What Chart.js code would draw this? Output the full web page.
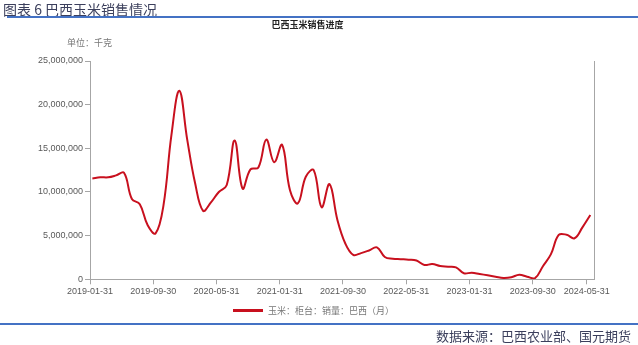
<!DOCTYPE html>
<html>
<head>
<meta charset="utf-8">
<script src="https://cdn.jsdelivr.net/npm/chart.js@4/dist/chart.umd.min.js"></script>
<style>
  body { margin: 0; background: #fff; }
  #wrap { position: relative; width: 638px; height: 345px; overflow: hidden; font-family: "Noto Sans CJK SC", sans-serif; }
  #wrap canvas { position: absolute; left: 0; top: 0; }
  .txt { position: absolute; white-space: nowrap; line-height: 1; }
  #head { left: 3px; top: 2px; font-size: 14px; color: #3b3f5c; }
  #line1 { position: absolute; left: 7px; right: 0; top: 16px; height: 2px; background: #4472c4; }
  #title { left: 0; width: 615px; text-align: center; top: 20px; font-size: 9px; font-weight: bold; color: #222; }
  #unit { left: 67px; top: 38px; font-size: 9px; color: #777; }
  #legend { left: 233px; top: 306px; font-size: 9px; color: #777; }
  #legend span { display: inline-block; width: 30px; height: 3px; background: #c8101e; vertical-align: middle; margin-right: 5px; position: relative; top: -1px; }
  #line2 { position: absolute; left: 0; right: 0; top: 323px; height: 2px; background: #4472c4; }
  #src { right: 7px; top: 329px; font-size: 13px; color: #3b3f5c; }
</style>
</head>
<body>
<div id="wrap">
  <canvas id="chart" width="638" height="345"></canvas>
  <div class="txt" id="head">图表 6 巴西玉米销售情况</div>
  <div id="line1"></div>
  <div class="txt" id="title">巴西玉米销售进度</div>
  <div class="txt" id="unit">单位：千克</div>
  <div class="txt" id="legend"><span></span>玉米：柜台：销量：巴西（月）</div>
  <div id="line2"></div>
  <div class="txt" id="src">数据来源：巴西农业部、国元期货</div>
</div>
<script>
// monthly sales, kg
var sales = [
  11550000, 11680000, 11680000, 11900000, 12200000, 9200000, 8600000, 6200000,
  5270000, 8500000, 16500000, 21600000, 16000000, 11000000, 7850000, 8800000,
  10000000, 10800000, 15900000, 10400000, 12600000, 12800000, 16000000, 13400000,
  15400000, 10200000, 8700000, 11750000, 12500000, 8250000, 10900000, 6800000,
  4100000, 2800000, 3000000, 3300000, 3650000, 2550000, 2350000, 2300000,
  2250000, 2150000, 1640000, 1750000, 1520000, 1450000, 1370000, 690000,
  760000, 610000, 460000, 300000, 150000, 230000, 520000, 300000,
  130000, 1500000, 2850000, 5080000, 5100000, 4700000, 5950000, 7360000
];
var xTickLabels = ['2019-01-31', '2019-09-30', '2020-05-31', '2021-01-31', '2021-09-30',
                   '2022-05-31', '2023-01-31', '2023-09-30', '2024-05-31'];
var xTickPos = [-0.3, 7.7, 15.7, 23.7, 31.7, 39.7, 47.7, 55.7, 62.55];
var yTicks = [0, 5000000, 10000000, 15000000, 20000000, 25000000];

var points = sales.map(function(v, i){ return { x: i, y: v }; });

Chart.defaults.font.family = 'Liberation Sans';
Chart.defaults.font.size = 9;
Chart.defaults.color = '#595959';

var axisColor = '#a6a6a6';

new Chart(document.getElementById('chart'), {
  type: 'line',
  data: {
    datasets: [{
      label: '玉米：柜台：销量：巴西（月）',
      data: points,
      borderColor: '#c8101e',
      borderWidth: 2,
      pointRadius: 0,
      tension: 0.4,
      fill: false
    }]
  },
  options: {
    responsive: false,
    animation: false,
    layout: { padding: { left: 0, right: 0, top: 61, bottom: 45.7 } },
    plugins: {
      legend: { display: false },
      tooltip: { enabled: false }
    },
    scales: {
      x: {
        type: 'linear',
        min: -0.3,
        max: 63.5,
        afterBuildTicks: function(axis){
          axis.ticks = xTickPos.map(function(v){ return { value: v }; });
        },
        afterFit: function(s){ s.height = 20; },
        ticks: {
          autoSkip: false,
          maxRotation: 0,
          padding: 2,
          callback: function(v, i){ return xTickLabels[i]; }
        },
        grid: { drawOnChartArea: false, tickLength: 5, color: axisColor },
        border: { color: axisColor }
      },
      y: {
        position: 'left',
        min: 0,
        max: 25000000,
        afterBuildTicks: function(axis){
          axis.ticks = yTicks.map(function(v){ return { value: v }; });
        },
        afterFit: function(s){ s.width = 90; },
        ticks: {
          padding: 2,
          callback: function(v){ return v.toLocaleString('en-US'); }
        },
        grid: { drawOnChartArea: false, tickLength: 5, color: axisColor },
        border: { color: axisColor }
      },
      y2: {
        position: 'right',
        min: 0,
        max: 25000000,
        afterFit: function(s){ s.width = 43.7; },
        ticks: { display: false },
        grid: { drawOnChartArea: false, drawTicks: false },
        border: { color: axisColor }
      }
    }
  }
});
</script>
</body>
</html>
